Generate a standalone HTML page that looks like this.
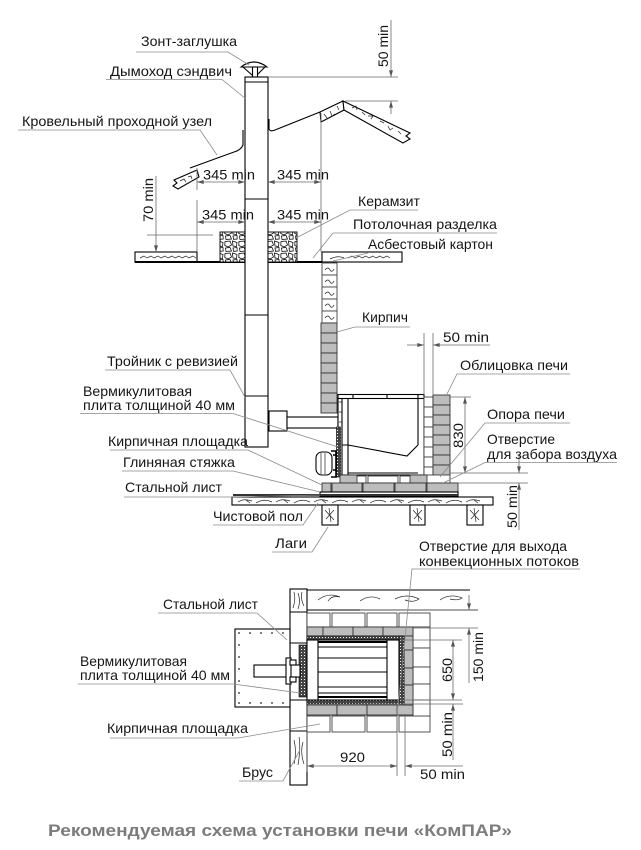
<!DOCTYPE html>
<html><head><meta charset="utf-8"><style>
html,body{margin:0;padding:0;background:#fff;}
svg{display:block;}
text{font-family:"Liberation Sans",sans-serif;font-size:14px;fill:#151515;}
.t{font-family:"Liberation Sans",sans-serif;font-size:17px;font-weight:bold;fill:#7c7c7c;}
.ld{stroke:#8a8a8a;stroke-width:.8;fill:none;}
.dm{stroke:#6a6a6a;stroke-width:.8;fill:none;}
.k{stroke:#000;stroke-width:1.1;fill:none;}
.kw{stroke:#000;stroke-width:1.1;fill:#fff;}
.gb{fill:#bdbdbd;stroke:#333;stroke-width:.9;}
.wb{fill:#fff;stroke:#444;stroke-width:.9;}
.sc{stroke:#222;stroke-width:.7;fill:none;}
</style></head><body>
<svg width="641" height="850" viewBox="0 0 641 850" xmlns="http://www.w3.org/2000/svg">
<defs>
<marker id="ar" viewBox="0 0 10 6" refX="10" refY="3" markerWidth="7" markerHeight="4" markerUnits="userSpaceOnUse" orient="auto-start-reverse"><path d="M0,0L10,3L0,6z" fill="#555"/></marker>
<pattern id="ker" width="14" height="12" patternUnits="userSpaceOnUse"><rect width="14" height="12" fill="#fff"/><path d="M1,1.5L6,1L7.5,5L4,7L0.8,5.5Z M8.5,1L13,2.5L12.5,6.5L9,6Z M1.5,8L6,7.5L7.5,11L2,11.5Z M9,8L13,7.5L13.2,11L9.5,11.3Z" fill="none" stroke="#000" stroke-width=".75"/></pattern>
<pattern id="verm" width="3" height="3" patternUnits="userSpaceOnUse"><rect width="3" height="3" fill="#444"/><rect x="1" y="1" width="1" height="1" fill="#fff"/></pattern>
</defs>

<!-- ================= ELEVATION ================= -->
<path d="M241,67 Q254,57 267,67 Z" class="kw"/>
<path d="M243,67 L252,75 M265,67 L257,75" class="k"/>
<rect x="252.5" y="67" width="5" height="10" class="kw"/>
<rect x="245" y="77" width="23" height="370" class="kw"/>
<path d="M245,82H268 M245,199H268 M245,315H268 M245,396H268" class="k"/>
<rect x="269" y="411" width="18" height="20" class="kw"/>
<rect x="287" y="417" width="51" height="11" class="kw"/>

<path d="M243,130 L243,145 Q241,150 234,152 L190,168" class="k"/>
<path d="M174,180 L197,170 L199,177 L178,189 L173,186 L177,183 Z" class="kw"/>
<path d="M180,181 l4,-2 l2,3 M188,177 l3,-1 l1,3 M186,184 l6,-3" class="sc"/>
<path d="M269,119 L269,129 Q270,132 275,130 L320,112" class="k"/>
<path d="M320,112 L343,101 L344,110 L321,122 Z" class="kw"/>
<path d="M324,114 l3,4 M330,111 l2,5 l3,-2 M337,106 l2,4" class="sc"/>
<path d="M343,101 L410,133 L406,136 L410,139 L403,143 L344,110 Z" class="kw"/>
<path d="M352,108 l4,-2 l1,4 M362,112 l3,3 M368,116 l5,0 l-2,3 M380,121 l4,2 M388,126 l2,4 l3,-2 M398,131 l3,3" class="sc"/>

<path d="M268,77H398 M345,101H398" class="dm"/>
<line x1="391" y1="20" x2="391" y2="77" class="dm" marker-end="url(#ar)"/>
<line x1="391" y1="114" x2="391" y2="101" class="dm" marker-end="url(#ar)"/>
<text transform="translate(388,67) rotate(-90)" textLength="42" lengthAdjust="spacingAndGlyphs">50 min</text>

<rect x="135" y="252" width="62" height="10" class="kw"/>
<path d="M140,258 l4,-2 l3,2 l4,-2 l3,2 l4,-2 l3,2 l4,-2 l3,2 l4,-2 l3,2 l4,-2 l3,2 l4,-2 l3,2 l4,-2 l3,2" class="sc"/>
<path d="M135,262H245 M268,262H322" stroke="#000" stroke-width="2"/>
<line x1="197" y1="200" x2="197" y2="252" class="dm"/>
<rect x="220" y="232" width="25" height="30" fill="url(#ker)" stroke="#000" stroke-width=".9"/>
<rect x="268" y="232" width="29" height="30" fill="url(#ker)" stroke="#000" stroke-width=".9"/>
<rect x="322" y="252" width="80" height="10" class="kw"/>
<path d="M330,259 q8,-4 14,-1 M348,258 l4,-2 l3,2 l4,-2 l3,2 l4,-2 l3,2 l4,-2 l3,2 l4,-2 l3,2 l4,-2 l3,2" class="sc"/>
<line x1="321" y1="113" x2="321" y2="252" class="dm"/>

<line x1="197" y1="168" x2="197" y2="190" class="dm"/>
<line x1="197" y1="182" x2="245" y2="182" class="dm" marker-start="url(#ar)" marker-end="url(#ar)"/>
<line x1="268" y1="182" x2="321" y2="182" class="dm" marker-start="url(#ar)" marker-end="url(#ar)"/>
<line x1="197" y1="222" x2="245" y2="222" class="dm" marker-start="url(#ar)" marker-end="url(#ar)"/>
<line x1="268" y1="222" x2="321" y2="222" class="dm" marker-start="url(#ar)" marker-end="url(#ar)"/>
<text x="203" y="179.5" textLength="52" lengthAdjust="spacingAndGlyphs">345 min</text>
<text x="277" y="179.5" textLength="52" lengthAdjust="spacingAndGlyphs">345 min</text>
<text x="202" y="219.5" textLength="52" lengthAdjust="spacingAndGlyphs">345 min</text>
<text x="277" y="219.5" textLength="52" lengthAdjust="spacingAndGlyphs">345 min</text>

<line x1="147" y1="235" x2="213" y2="235" class="dm"/>
<line x1="156" y1="176" x2="156" y2="252" class="dm" marker-end="url(#ar)"/>
<text transform="translate(153,222) rotate(-90)" textLength="44" lengthAdjust="spacingAndGlyphs">70 min</text>

<g>
<rect x="322" y="263" width="15" height="12" class="wb"/><rect x="322" y="275" width="15" height="12" class="wb"/><rect x="322" y="287" width="15" height="12" class="wb"/><rect x="322" y="299" width="15" height="12" class="wb"/><rect x="322" y="311" width="15" height="12" class="wb"/>
<path d="M325,270 q3,-4 5,0 q2,3 4,-1 M325,282 q3,-4 5,0 q2,3 4,-1 M325,294 q3,-4 5,0 q2,3 4,-1 M325,306 q3,-4 5,0 q2,3 4,-1 M325,318 q3,-4 5,0 q2,3 4,-1" class="sc"/>
<rect x="321" y="323" width="16" height="10" class="gb"/><rect x="321" y="333" width="16" height="10" class="gb"/><rect x="321" y="343" width="16" height="10" class="gb"/><rect x="321" y="353" width="16" height="10" class="gb"/><rect x="321" y="363" width="16" height="10" class="gb"/><rect x="321" y="373" width="16" height="10" class="gb"/><rect x="321" y="383" width="16" height="10" class="gb"/><rect x="321" y="393" width="16" height="10" class="gb"/><rect x="321" y="403" width="16" height="10" class="gb"/>
</g>

<rect x="338" y="398" width="86" height="77" class="kw"/>
<rect x="338" y="394.5" width="86" height="4" class="kw"/>
<path d="M353,394.5V398.5 M387,394.5V398.5 M418,394.5V398.5" class="k"/>
<path d="M342,398V475 M348,398V475 M418,398V445 M342,445H348 L407,456 L418,445 M348,473H418" class="k"/>
<path d="M339,402H342 M339,412H342 M339,422H342" class="sc"/>
<rect x="336.5" y="427" width="4" height="50" fill="url(#verm)" stroke="#000" stroke-width=".6"/>
<rect x="316" y="452" width="16" height="23" rx="6" class="kw"/>
<path d="M321,453V474 M325,453V474" class="sc"/>
<path d="M331,451 h5 v26 h-5 M333,455 h3 M333,470 h3" stroke="#000" stroke-width="1.6" fill="none"/>
<g>
<rect x="424" y="397" width="9" height="10" class="wb"/><rect x="424" y="407" width="9" height="10" class="wb"/><rect x="424" y="417" width="9" height="10" class="wb"/><rect x="424" y="427" width="9" height="10" class="wb"/><rect x="424" y="437" width="9" height="10" class="wb"/><rect x="424" y="447" width="9" height="10" class="wb"/><rect x="424" y="457" width="9" height="10" class="wb"/><rect x="424" y="467" width="9" height="8" class="wb"/>
<rect x="433" y="395" width="17" height="10" class="gb"/><rect x="433" y="405" width="17" height="10" class="gb"/><rect x="433" y="415" width="17" height="10" class="gb"/><rect x="433" y="425" width="17" height="10" class="gb"/><rect x="433" y="435" width="17" height="10" class="gb"/><rect x="433" y="445" width="17" height="10" class="gb"/><rect x="433" y="455" width="17" height="10" class="gb"/><rect x="433" y="465" width="17" height="10" class="gb"/>
</g>
<rect x="340" y="475" width="17" height="8" class="gb"/>
<rect x="410" y="475" width="17" height="8" class="gb"/>
<rect x="357" y="476" width="9" height="7" class="wb"/><rect x="368" y="476" width="30" height="7" class="wb"/><rect x="400" y="476" width="10" height="7" class="wb"/>
<rect x="427" y="475" width="23" height="8" class="wb"/>
<rect x="322" y="483" width="9" height="9" class="gb"/><rect x="332" y="483" width="30" height="9" class="gb"/><rect x="363" y="483" width="31" height="9" class="gb"/><rect x="395" y="483" width="31" height="9" class="gb"/><rect x="427" y="483" width="31" height="9" class="gb"/>
<rect x="320" y="492" width="138" height="4" class="kw"/>
<line x1="233" y1="495" x2="458" y2="495" stroke="#333" stroke-width="2"/>
<rect x="232" y="497" width="261" height="8" class="kw"/>
<path d="M238,502 q6,-4 14,-1 M256,503 q8,-5 16,-1 M276,502 q6,-4 14,-1 M294,503 q8,-5 16,-1 M314,502 q6,-4 14,-1 M332,503 q8,-5 16,-1 M352,502 q6,-4 14,-1 M370,503 q8,-5 16,-1 M390,502 q6,-4 14,-1 M408,503 q8,-5 16,-1 M428,502 q6,-4 14,-1 M446,503 q8,-5 16,-1 M466,502 q6,-4 14,-1 M246,500 l4,3 M284,500 l4,3 M322,500 l4,3 M360,500 l4,3 M398,500 l4,3 M436,500 l4,3 M474,500 l4,3" class="sc"/>
<rect x="322" y="505" width="16" height="20" class="kw"/><rect x="410" y="505" width="15" height="20" class="kw"/><rect x="467" y="505" width="16" height="20" class="kw"/>
<path d="M325,510 l9,10 M326,519 l8,-9 M329,508 l2,14 M413,510 l9,10 M414,519 l8,-9 M417,508 l2,14 M470,510 l9,10 M471,519 l8,-9 M474,508 l2,14" class="sc"/>

<path d="M424,333V395 M433,333V395" class="dm"/>
<line x1="407" y1="345" x2="424" y2="345" class="dm" marker-end="url(#ar)"/>
<line x1="490" y1="345" x2="433" y2="345" class="dm" marker-end="url(#ar)"/>
<text x="443" y="342" textLength="46" lengthAdjust="spacingAndGlyphs">50 min</text>
<path d="M450,397H471 M450,473H528 M458,483H528" class="dm"/>
<line x1="465" y1="397" x2="465" y2="473" class="dm" marker-start="url(#ar)" marker-end="url(#ar)"/>
<text transform="translate(463,448) rotate(-90)" textLength="25" lengthAdjust="spacingAndGlyphs">830</text>
<line x1="519" y1="455" x2="519" y2="473" class="dm" marker-end="url(#ar)"/>
<line x1="519" y1="530" x2="519" y2="483" class="dm" marker-end="url(#ar)"/>
<text transform="translate(517,528) rotate(-90)" textLength="43" lengthAdjust="spacingAndGlyphs">50 min</text>

<!-- ================= PLAN ================= -->
<path d="M307,590H470 M307,610H478" class="k"/>
<path d="M318,600 q10,-8 22,-3 q-8,-2 -12,4 M360,601 q10,-7 20,-2 M395,599 q12,-6 24,0 q-6,4 -14,1 M440,600 q10,-7 22,-2 q-4,3 -12,1" class="sc"/>
<rect x="290" y="589" width="17" height="196" class="kw"/>
<path d="M290,612H307 M290,643H307 M290,700H307 M290,731H307" class="k"/>
<path d="M294,592 q2,8 -1,16 M298,593 q3,8 0,16 M302,592 q-2,6 2,14 M294,740 q3,12 0,24 M299,737 q2,10 -1,28 M303,742 q-3,10 1,22" class="sc"/>
<rect x="235" y="629" width="55" height="78" class="kw"/>
<g fill="#222">
<circle cx="239" cy="633" r=".9"/><circle cx="250" cy="633" r=".9"/><circle cx="261" cy="633" r=".9"/><circle cx="272" cy="633" r=".9"/><circle cx="283" cy="633" r=".9"/>
<circle cx="239" cy="703" r=".9"/><circle cx="250" cy="703" r=".9"/><circle cx="261" cy="703" r=".9"/><circle cx="272" cy="703" r=".9"/><circle cx="283" cy="703" r=".9"/>
<circle cx="239" cy="645" r=".9"/><circle cx="239" cy="657" r=".9"/><circle cx="239" cy="669" r=".9"/><circle cx="239" cy="681" r=".9"/><circle cx="239" cy="693" r=".9"/>
</g>
<rect x="307" y="613" width="23" height="14" class="wb"/><rect x="332" y="613" width="33" height="14" class="wb"/><rect x="367" y="613" width="30" height="14" class="wb"/><rect x="399" y="613" width="31" height="14" class="wb"/>
<rect x="307" y="716" width="23" height="16" class="wb"/><rect x="332" y="716" width="33" height="16" class="wb"/><rect x="367" y="716" width="30" height="16" class="wb"/><rect x="399" y="716" width="31" height="16" class="wb"/>
<rect x="413" y="627" width="17" height="21" class="wb"/><rect x="413" y="648" width="17" height="19" class="wb"/><rect x="413" y="667" width="17" height="17" class="wb"/><rect x="413" y="684" width="17" height="16" class="wb"/><rect x="413" y="700" width="17" height="16" class="wb"/>
<rect x="307" y="627" width="16" height="9" class="gb"/><rect x="323" y="627" width="30" height="9" class="gb"/><rect x="353" y="627" width="30" height="9" class="gb"/><rect x="383" y="627" width="30" height="9" class="gb"/>
<rect x="307" y="705" width="30" height="10" class="gb"/><rect x="337" y="705" width="30" height="10" class="gb"/><rect x="367" y="705" width="30" height="10" class="gb"/><rect x="397" y="705" width="16" height="10" class="gb"/>
<rect x="404" y="636" width="9" height="14" class="gb"/><rect x="404" y="650" width="9" height="18" class="gb"/><rect x="404" y="668" width="9" height="17" class="gb"/><rect x="404" y="685" width="9" height="20" class="gb"/>
<rect x="307" y="636" width="97" height="4" fill="url(#verm)" stroke="#000" stroke-width=".5"/>
<rect x="307" y="700" width="97" height="4" fill="url(#verm)" stroke="#000" stroke-width=".5"/>
<rect x="399" y="636" width="5" height="68" fill="url(#verm)" stroke="#000" stroke-width=".5"/>
<rect x="299" y="645" width="8" height="52" fill="url(#verm)" stroke="#000" stroke-width=".6"/>
<rect x="307" y="640" width="92" height="60" class="kw"/>
<path d="M318,640V700 M387,640V700" class="k"/>
<path d="M318,642H387 M318,697H387" stroke="#000" stroke-width="2"/>
<path d="M318,647H387 M318,658H387 M318,672H387 M318,687H387 M318,693H387" class="k"/>
<rect x="254" y="665" width="46" height="12" class="kw"/>
<rect x="286" y="658" width="5" height="26" class="kw"/>
<rect x="290" y="660" width="6" height="5" class="kw"/><rect x="290" y="677" width="6" height="5" class="kw"/>

<path d="M360,610H478 M413,628H478" class="dm"/>
<line x1="469" y1="595" x2="469" y2="610" class="dm" marker-end="url(#ar)"/>
<line x1="469" y1="683" x2="469" y2="628" class="dm" marker-end="url(#ar)"/>
<text transform="translate(483,682) rotate(-90)" textLength="50" lengthAdjust="spacingAndGlyphs">150 min</text>
<path d="M400,640H462 M400,700H462 M360,704H463" class="dm"/>
<line x1="453" y1="640" x2="453" y2="700" class="dm" marker-start="url(#ar)" marker-end="url(#ar)"/>
<text transform="translate(452,682) rotate(-90)" textLength="24" lengthAdjust="spacingAndGlyphs">650</text>
<line x1="453" y1="760" x2="453" y2="704" class="dm" marker-end="url(#ar)"/>
<text transform="translate(452,757) rotate(-90)" textLength="45" lengthAdjust="spacingAndGlyphs">50 min</text>
<path d="M397,704V776 M405,714V776 M307,732V772" class="dm"/>
<line x1="307" y1="766" x2="397" y2="766" class="dm" marker-start="url(#ar)" marker-end="url(#ar)"/>
<line x1="463" y1="766" x2="405" y2="766" class="dm" marker-end="url(#ar)"/>
<text x="340" y="762" textLength="25" lengthAdjust="spacingAndGlyphs">920</text>
<text x="420" y="779" textLength="45" lengthAdjust="spacingAndGlyphs">50 min</text>

<!-- ================= LABELS ================= -->
<g>
<text x="141" y="46" textLength="96" lengthAdjust="spacingAndGlyphs">Зонт-заглушка</text>
<path d="M136,52H228 L249,65" class="ld"/>
<text x="110" y="76" textLength="122" lengthAdjust="spacingAndGlyphs">Дымоход сэндвич</text>
<path d="M106,79.5H222 L246,99" class="ld"/>
<text x="22" y="126" textLength="190" lengthAdjust="spacingAndGlyphs">Кровельный проходной узел</text>
<path d="M18,130H200 L217,155" class="ld"/>

<text x="358" y="206" textLength="62" lengthAdjust="spacingAndGlyphs">Керамзит</text>
<path d="M418,210H350 L296,238" class="ld"/>
<text x="353" y="229" textLength="144" lengthAdjust="spacingAndGlyphs">Потолочная разделка</text>
<path d="M497,233H333 L313,258" class="ld"/>
<text x="368" y="249" textLength="125" lengthAdjust="spacingAndGlyphs">Асбестовый картон</text>
<path d="M368,253 L333,261" class="ld"/>
<text x="362" y="322" textLength="46" lengthAdjust="spacingAndGlyphs">Кирпич</text>
<path d="M410,327H355 L337,332" class="ld"/>

<text x="460" y="370" textLength="108" lengthAdjust="spacingAndGlyphs">Облицовка печи</text>
<path d="M570,374H457 L446,396" class="ld"/>
<text x="487" y="419" textLength="78" lengthAdjust="spacingAndGlyphs">Опора печи</text>
<path d="M570,423H485 L440,477" class="ld"/>
<text x="487" y="444" textLength="68" lengthAdjust="spacingAndGlyphs">Отверстие</text>
<text x="487" y="459" textLength="130" lengthAdjust="spacingAndGlyphs">для забора воздуха</text>
<path d="M617,462.5H485 L443,483" class="ld"/>

<text x="107" y="366" textLength="131" lengthAdjust="spacingAndGlyphs">Тройник с ревизией</text>
<path d="M105,370H230 L245,397" class="ld"/>
<text x="83" y="396" textLength="109" lengthAdjust="spacingAndGlyphs">Вермикулитовая</text>
<text x="83" y="410" textLength="152" lengthAdjust="spacingAndGlyphs">плита толщиной 40 мм</text>
<path d="M80,413.5H233 L338,447" class="ld"/>
<text x="108" y="446" textLength="140" lengthAdjust="spacingAndGlyphs">Кирпичная площадка</text>
<path d="M110,450H248 L322,485" class="ld"/>
<text x="123" y="467" textLength="112" lengthAdjust="spacingAndGlyphs">Глиняная стяжка</text>
<path d="M122,471H233 L320,492" class="ld"/>
<text x="125" y="492" textLength="97" lengthAdjust="spacingAndGlyphs">Стальной лист</text>
<path d="M124,497H232 L320,495" class="ld"/>
<text x="213" y="521" textLength="90" lengthAdjust="spacingAndGlyphs">Чистовой пол</text>
<path d="M213,525H303 L318,503" class="ld"/>
<text x="275" y="548" textLength="32" lengthAdjust="spacingAndGlyphs">Лаги</text>
<path d="M272,552H312 L328,527" class="ld"/>

<text x="419" y="551" textLength="148" lengthAdjust="spacingAndGlyphs">Отверстие для выхода</text>
<text x="419" y="566" textLength="160" lengthAdjust="spacingAndGlyphs">конвекционных потоков</text>
<path d="M580,569H412 L398,707" class="ld"/>

<text x="163" y="609" textLength="95" lengthAdjust="spacingAndGlyphs">Стальной лист</text>
<path d="M158,613H257 L287,640" class="ld"/>
<text x="80" y="666" textLength="107" lengthAdjust="spacingAndGlyphs">Вермикулитовая</text>
<text x="80" y="680" textLength="150" lengthAdjust="spacingAndGlyphs">плита толщиной 40 мм</text>
<path d="M78,684H233 L300,693" class="ld"/>
<text x="107" y="733" textLength="141" lengthAdjust="spacingAndGlyphs">Кирпичная площадка</text>
<path d="M110,738H238 L320,724" class="ld"/>
<text x="242" y="777" textLength="31" lengthAdjust="spacingAndGlyphs">Брус</text>
<path d="M239,781H283 L300,750" class="ld"/>
</g>

<text class="t" x="48" y="836" textLength="464" lengthAdjust="spacingAndGlyphs">Рекомендуемая схема установки печи «КомПАР»</text>
</svg>
</body></html>
